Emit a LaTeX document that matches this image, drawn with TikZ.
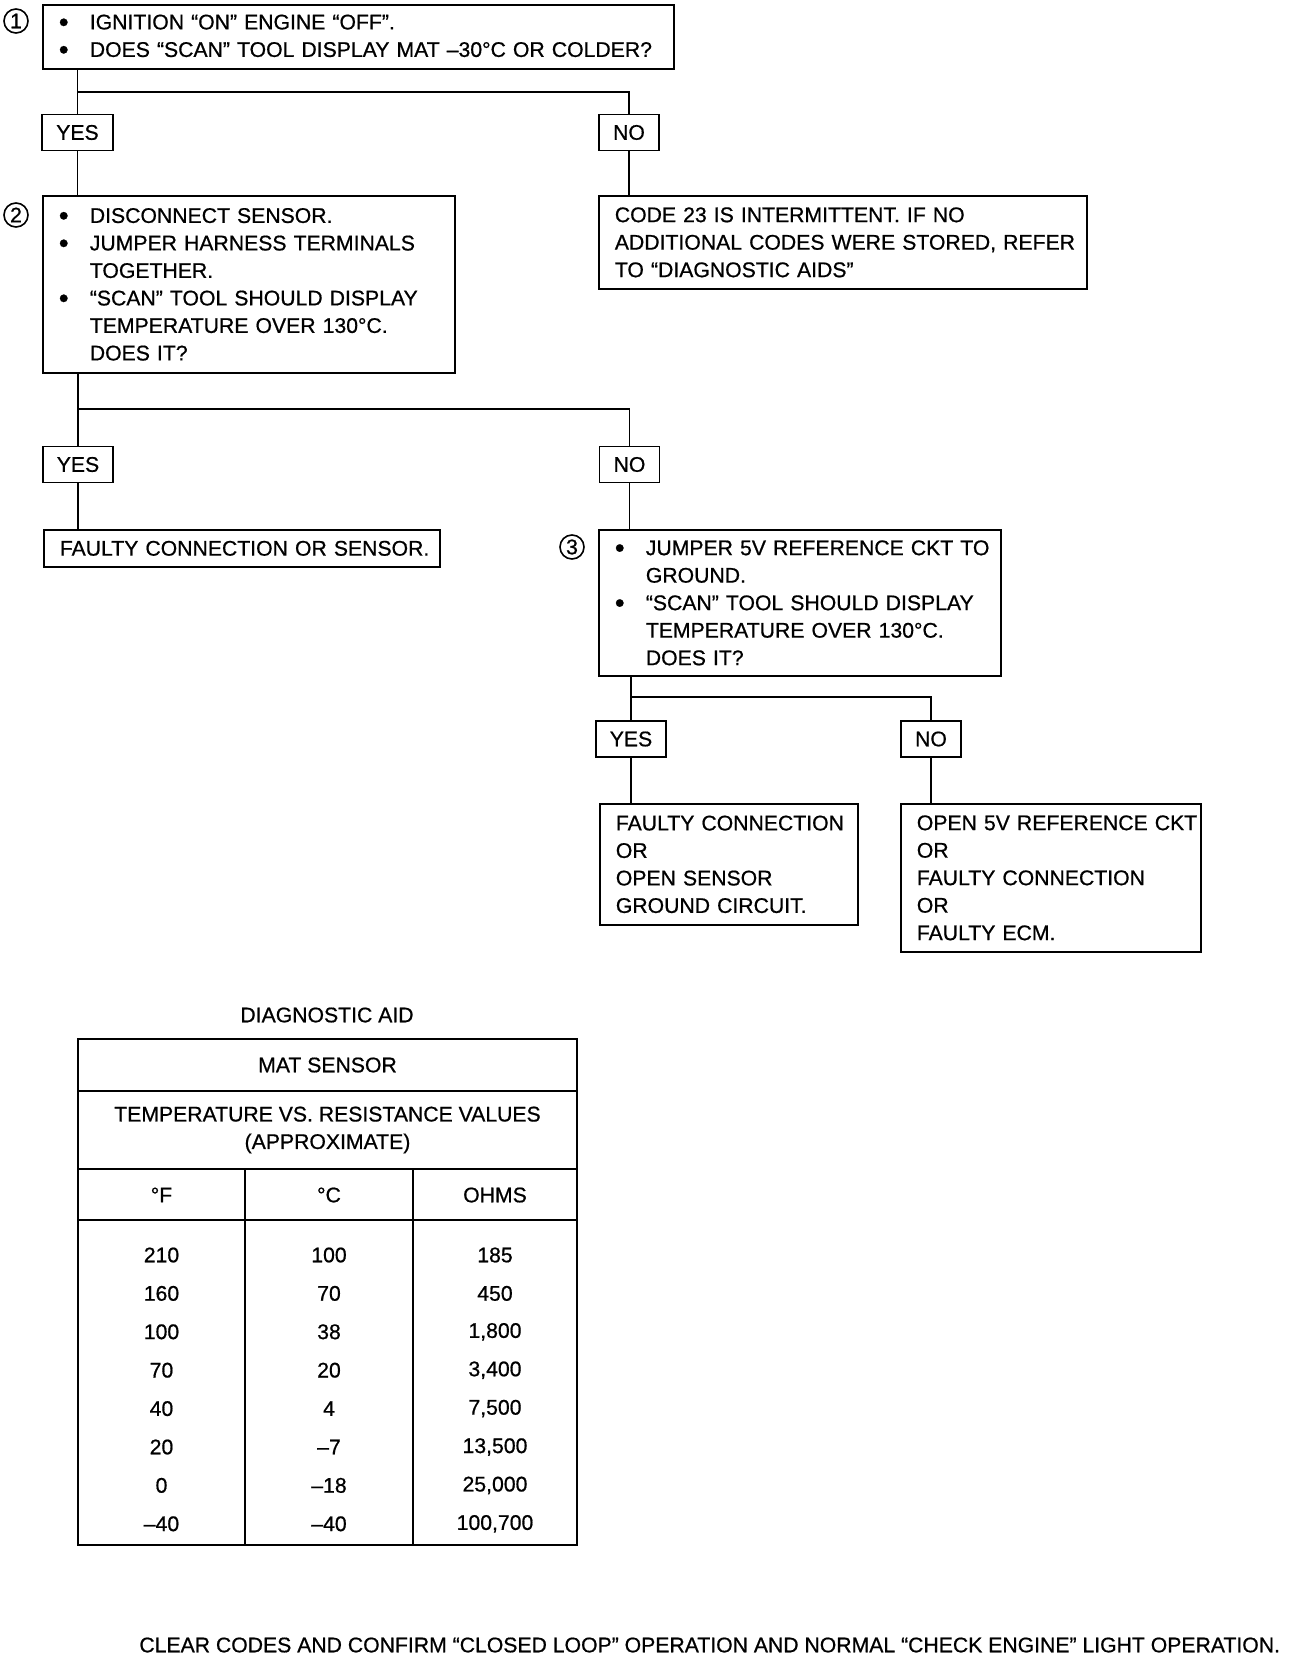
\documentclass[tikz,border=0pt]{standalone}
\usepackage{fontspec}
\setmainfont{Liberation Sans}[FakeBold=0.7]
\usepackage{tikz}

\newcommand{\bul}{\hspace*{8pt}\makebox[15.5pt][l]{\raisebox{-1.1pt}{\fontsize{14}{14}\selectfont\textbullet}}}
\newcommand{\cont}{\hspace*{23.5pt}}
\newcommand{\pad}{\hspace*{8pt}}

\begin{document}
\begin{tikzpicture}[x=0.5pt, y=-0.5pt,
        font=\fontsize{10.6}{13.75}\selectfont,
        box/.style={draw, line width=0.85pt, anchor=north west, align=left, inner xsep=0pt, inner ysep=0pt},
        ans/.style={draw, line width=0.85pt, inner xsep=7pt, inner ysep=0pt, minimum height=18pt},
        num/.style={circle, draw, line width=0.8pt, inner sep=0pt, minimum size=12pt},
        link/.style={line width=0.8pt}
    ]
    \useasboundingbox (0,0) rectangle (1296,1658);

    % Step 1
    \node[num] (n1) at (16,21) {1};
    \node[box, text width=315.5pt, minimum height=32pt] (q1) at (42,4)
        {\bul IGNITION “ON” ENGINE “OFF”.\\
         \bul DOES “SCAN” TOOL DISPLAY MAT –30°C OR COLDER?};
    \node[ans] (yes1) at (77.5,132.5) {YES};
    \node[ans] (no1) at (629,132.5) {NO};
    \coordinate (j1) at (77.5,92);

    \draw[link] (q1.south -| j1) -- (yes1.north);
    \draw[link] (j1) -| (no1.north);

    % Step 2
    \node[num] (n2) at (16,215) {2};
    \node[box, text width=206pt, minimum height=88.5pt] (q2) at (42,195)
        {\bul DISCONNECT SENSOR.\\
         \bul JUMPER HARNESS TERMINALS\\
         \cont TOGETHER.\\
         \bul “SCAN” TOOL SHOULD DISPLAY\\
         \cont TEMPERATURE OVER 130°C.\\
         \cont DOES IT?};
    \node[box, text width=244pt, minimum height=46.5pt] (c23) at (598,195)
        {\pad CODE 23 IS INTERMITTENT. IF NO\\
         \pad ADDITIONAL CODES WERE STORED, REFER\\
         \pad TO “DIAGNOSTIC AIDS”};

    \draw[link] (yes1.south) -- (yes1.south |- q2.north);
    \draw[link] (no1.south) -- (no1.south |- c23.north);

    \node[ans] (yes2) at (78,464.5) {YES};
    \node[ans] (no2) at (629.5,464.5) {NO};
    \coordinate (j2) at (78,409);

    \draw[link] (q2.south -| j2) -- (yes2.north);
    \draw[link] (j2) -| (no2.north);

    \node[box, text width=198pt, minimum height=18.5pt] (f1) at (43,529)
        {\pad FAULTY CONNECTION OR SENSOR.};

    % Step 3
    \node[num] (n3) at (572,547) {3};
    \node[box, text width=201pt, minimum height=73pt] (q3) at (598,529)
        {\bul JUMPER 5V REFERENCE CKT TO\\
         \cont GROUND.\\
         \bul “SCAN” TOOL SHOULD DISPLAY\\
         \cont TEMPERATURE OVER 130°C.\\
         \cont DOES IT?};

    \draw[link] (yes2.south) -- (yes2.south |- f1.north);
    \draw[link] (no2.south) -- (no2.south |- q3.north);

    \node[ans] (yes3) at (631,739) {YES};
    \node[ans] (no3) at (931,739) {NO};
    \coordinate (j3) at (631,697);

    \draw[link] (q3.south -| j3) -- (yes3.north);
    \draw[link] (j3) -| (no3.north);

    \node[box, text width=129pt, minimum height=60.5pt] (f2) at (599,803)
        {\pad FAULTY CONNECTION\\
         \pad OR\\
         \pad OPEN SENSOR\\
         \pad GROUND CIRCUIT.};
    \node[box, text width=150pt, minimum height=74pt] (f3) at (900,803)
        {\pad OPEN 5V REFERENCE CKT\\
         \pad OR\\
         \pad FAULTY CONNECTION\\
         \pad OR\\
         \pad FAULTY ECM.};

    \draw[link] (yes3.south) -- (yes3.south |- f2.north);
    \draw[link] (no3.south) -- (no3.south |- f3.north);

    % Diagnostic aid table
    \node (diag) at (327,1015) {DIAGNOSTIC AID};
    \draw[line width=1.4pt] (78,1039) rectangle (577,1545);
    \draw[line width=1pt] (78,1091) -- (577,1091) (78,1169) -- (577,1169) (78,1220) -- (577,1220);
    \draw[line width=0.6pt] (245,1169) -- (245,1545) (413,1169) -- (413,1545);
    \node (mat) at (327.5,1065) {MAT SENSOR};
    \node[align=center] (tvr) at (327.5,1130) {TEMPERATURE VS. RESISTANCE VALUES\\(APPROXIMATE)};
    \node (hF) at (161.5,1195) {°F};
    \node (hC) at (329,1195) {°C};
    \node (hR) at (495,1195) {OHMS};
    \foreach \tf/\tc/\ohm [count=\i from 0] in {210/100/185, 160/70/450, 100/38/{1,800}, 70/20/{3,400},
            40/4/{7,500}, 20/–7/{13,500}, 0/–18/{25,000}, –40/–40/{100,700}} {
        \node (rf\i) at (161.5,{1255+38.4*\i}) {\tf};
        \node (rc\i) at (329,{1255+38.4*\i}) {\tc};
        \node (rr\i) at (495,{1255+38.4*\i}) {\ohm};
    }

    \node[anchor=west, inner sep=0pt] (note) at (139,1645)
        {CLEAR CODES AND CONFIRM “CLOSED LOOP” OPERATION AND NORMAL “CHECK ENGINE” LIGHT OPERATION.};

\end{tikzpicture}
\end{document}
